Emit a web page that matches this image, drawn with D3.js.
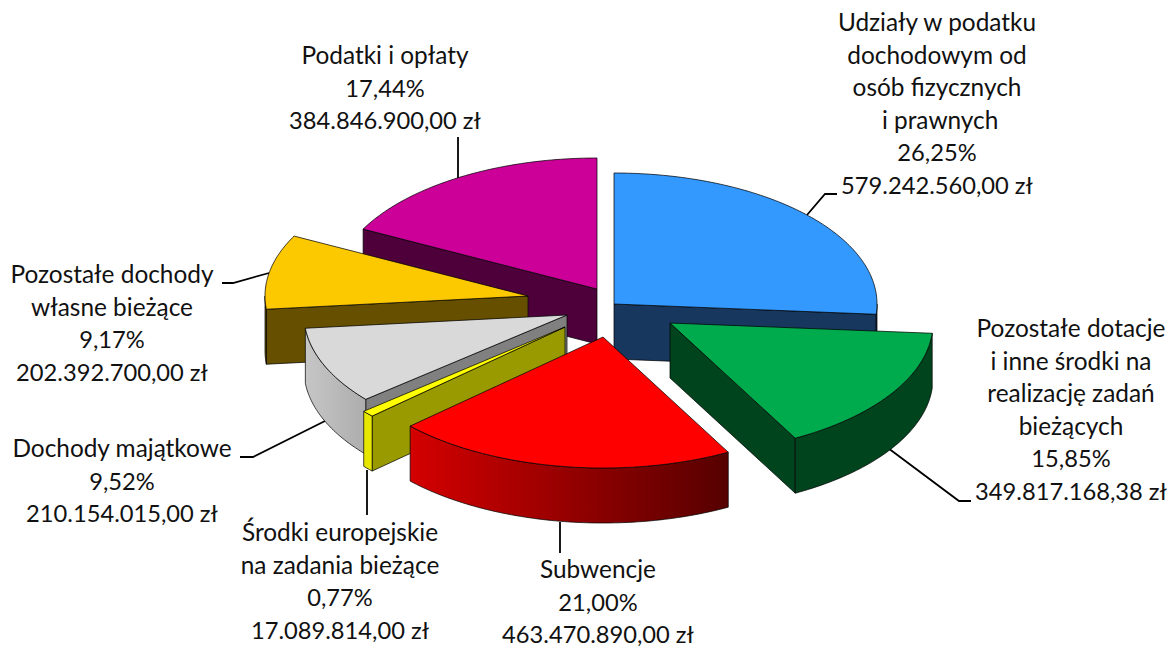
<!DOCTYPE html>
<html lang="pl"><head><meta charset="utf-8">
<script src="https://cdnjs.cloudflare.com/ajax/libs/d3/7.8.5/d3.min.js"></script>
<style>html,body{margin:0;padding:0;background:#fff}svg{display:block}text{font-family:Lato,"Open Sans",sans-serif;fill:#111}</style>
</head><body><svg id="c" width="1171" height="648"></svg>
<script>
// ---- data ----
const sliceNames = ["Udziały w podatku dochodowym","Pozostałe dotacje","Subwencje","Środki europejskie","Dochody majątkowe","Pozostałe dochody własne","Podatki i opłaty"];
const percents = [26.25,15.85,21.00,0.77,9.52,9.17,17.44];
const percentLabels = ["26,25%","15,85%","21,00%","0,77%","9,52%","9,17%","17,44%"];
const amountLabels = ["579.242.560,00 zł","349.817.168,38 zł","463.470.890,00 zł","17.089.814,00 zł","210.154.015,00 zł","202.392.700,00 zł","384.846.900,00 zł"];
const nameLines = [
  ["Udziały w podatku","dochodowym od","osób fizycznych","\u00a0i prawnych"],
  ["Pozostałe dotacje","i inne środki na","realizację zadań","bieżących"],
  ["Subwencje"],
  ["Środki europejskie","na zadania bieżące"],
  ["Dochody majątkowe"],
  ["Pozostałe dochody","własne bieżące"],
  ["Podatki i opłaty"]
];
// ---- layout / style ----
const W=1171,H=648,RX=263,RY=131,DEPTH=55,CX=590,CY=313;
const explode=[[24,-9],[80,10],[13,24],[-25,14],[-23,2],[-62,-17],[7,-24]];
const topFill=["#3399ff","#00ab4d","#ff0000","#ffff00","#d9d9d9","#fcc800","#cc0099"];
const cutFill=["#17375e","#00441e","#990000","#999900","#808080","#665000","#4d0039"];
const wallFill=["#17375e","#00441e","url(#gRed)","#e6e600","url(#gGrey)","#665000","#4d0039"];
const labelX=[937,1071,598,340,122,112,385];
const labelY=[31,337,578,541,457,283,64];
const lineStep=32.5;
const nameSize=24.4, numberSize=23.7;
const leaders=[
 [[807,215],[825,194],[837,194]],
 [[888,448],[959,501],[971,501]],
 [[560,522],[560,553]],
 [[367,470],[367,515]],
 [[325,421],[253,457],[240,457]],
 [[269,273],[233,283],[222,283]],
 [[458,178],[458,137]]
];
const drawOrder=[6,0,5,4,3,2,1];

const svg=d3.select("#c");
const defs=svg.append("defs");
function grad(id,x1,x2,c1,c2){
  const g=defs.append("linearGradient").attr("id",id).attr("gradientUnits","userSpaceOnUse")
    .attr("x1",x1).attr("x2",x2).attr("y1",0).attr("y2",0);
  g.append("stop").attr("offset",0).attr("stop-color",c1);
  g.append("stop").attr("offset",1).attr("stop-color",c2);
}
const arcs=d3.pie().sort(null).value(d=>d).startAngle(0).endAngle(2*Math.PI)(percents);
const scaleX=d3.scaleLinear().domain([-1,1]).range([-RX,RX]);
const scaleY=d3.scaleLinear().domain([-1,1]).range([-RY,RY]);
const line=d3.line();
const apex=i=>[CX+explode[i][0],CY+explode[i][1]];
const rim=(i,a)=>{const p=apex(i);return [p[0]+scaleX(Math.sin(a)),p[1]+scaleY(-Math.cos(a))];};
const sample=(a0,a1)=>{const n=Math.max(2,Math.ceil((a1-a0)/(Math.PI/180)));return d3.range(n+1).map(k=>a0+(a1-a0)*k/n);};
const drop=p=>[p[0],p[1]+DEPTH];

grad("gRed",rim(2,arcs[2].endAngle)[0],rim(2,arcs[2].startAngle)[0],"#d40000","#560000");
grad("gGrey",rim(4,arcs[4].endAngle)[0],rim(4,arcs[4].startAngle)[0],"#c6c6c6","#adadad");

const leaderG=svg.append("g");
leaders.forEach(l=>leaderG.append("path").attr("d",line(l)).attr("fill","none").attr("stroke","#000").attr("stroke-width",1.8));

const edge="rgba(0,0,0,0.72)";
drawOrder.forEach(i=>{
  const a=arcs[i],g=svg.append("g").attr("data-name",sliceNames[i]);
  const c=apex(i);
  const cut=(ang,fill)=>{const r=rim(i,ang);
    g.append("path").attr("d",line([c,r,drop(r),drop(c)])+"Z").attr("fill",fill).attr("stroke",edge).attr("stroke-width",1);};
  if(Math.sin(a.startAngle)<-1e-6) cut(a.startAngle,cutFill[i]);
  if(Math.sin(a.endAngle)>1e-6) cut(a.endAngle,cutFill[i]);
  const w0=Math.max(a.startAngle,Math.PI/2),w1=Math.min(a.endAngle,3*Math.PI/2);
  if(w1>w0){
    const top=sample(w0,w1).map(t=>rim(i,t));
    g.append("path").attr("d",line(top.concat(top.map(drop).reverse()))+"Z").attr("fill",wallFill[i]).attr("stroke",edge).attr("stroke-width",1);
  }
  g.append("path").attr("d",line([c].concat(sample(a.startAngle,a.endAngle).map(t=>rim(i,t))))+"Z")
   .attr("fill",topFill[i]).attr("stroke",edge).attr("stroke-width",1).attr("stroke-linejoin","round");
});

const labelG=svg.append("g").attr("text-anchor","middle");
nameLines.forEach((names,i)=>{
  names.forEach((t,k)=>labelG.append("text").attr("x",labelX[i]).attr("y",labelY[i]+k*lineStep).attr("font-size",nameSize).text(t));
  [percentLabels[i],amountLabels[i]].forEach((t,k)=>labelG.append("text").attr("x",labelX[i]).attr("y",labelY[i]+(names.length+k)*lineStep).attr("font-size",numberSize).text(t));
});
</script></body></html>
